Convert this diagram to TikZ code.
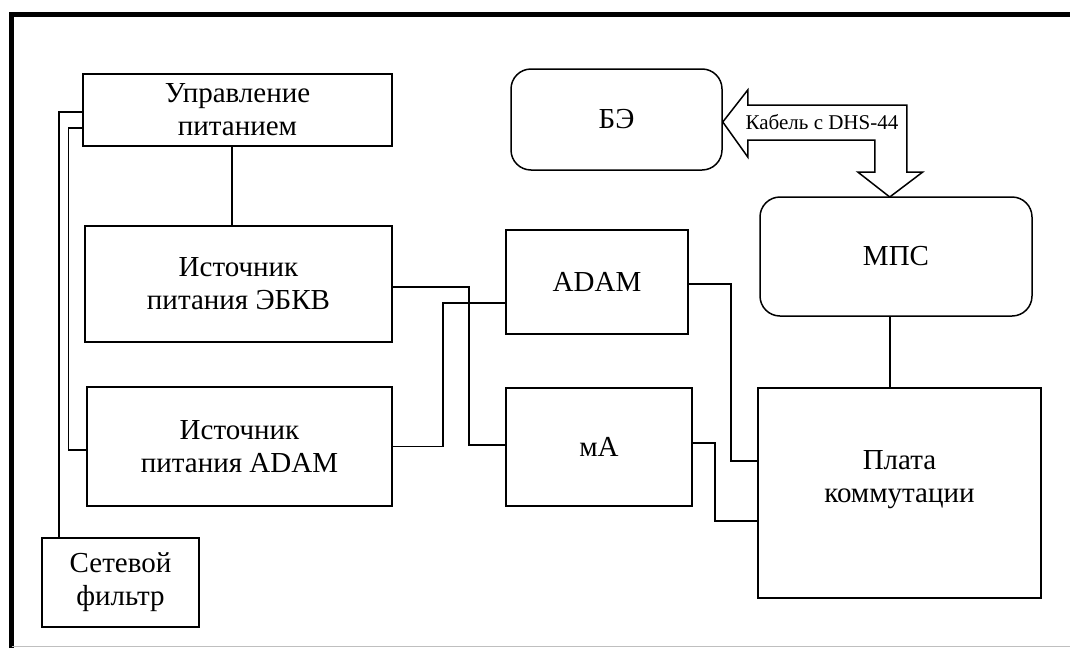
\documentclass[tikz,border=0pt]{standalone}
\usepackage{fontspec}
\setmainfont{Liberation Serif}

\tikzset{
  blk/.style={draw, line width=1.5pt, inner sep=0pt, align=center, font=\rmfamily\fontsize{29}{33}\selectfont},
  rblk/.style={blk, rounded corners=20pt},
  wire/.style={line width=1.5pt},
}

\begin{document}
\begin{tikzpicture}[x=1pt, y=-1pt]
        \useasboundingbox (0,0) rectangle (1070,648);

        % Frame
        \draw[line width=5pt] (11.5,648) -- (11.5,14.5) -- (1070,14.5);
        \draw[gray!50, line width=1.5pt] (11.5,646.5) -- (1070,646.5);

        % Power blocks (left)
        \node[blk, minimum width=309pt, minimum height=72pt] (upr) at (237.5,110) {Управление\\питанием};
        \node[blk, minimum width=307pt, minimum height=116pt] (ebkv) at (238.5,284) {Источник\\питания ЭБКВ};
        \node[blk, minimum width=305pt, minimum height=119pt] (ipadam) at (239.5,446.5) {Источник\\питания ADAM};
        \node[blk, minimum width=157pt, minimum height=89pt] (filt) at (120.5,582.5) {Сетевой\\фильтр};

        % Middle blocks
        \node[blk, minimum width=182pt, minimum height=104pt] (adam) at (597,282) {ADAM};
        \node[blk, minimum width=186pt, minimum height=118pt] (ma) at (599,447) {мА};

        % Right blocks
        \node[rblk, minimum width=211pt, minimum height=101pt] (be) at (616.5,119.5) {БЭ};
        \node[rblk, minimum width=272pt, minimum height=119pt] (mps) at (896,256.5) {МПС};
        \node[blk, minimum width=283pt, minimum height=210pt] (plata) at (899.5,493) {};
        \node[align=center, inner sep=0pt, font=\rmfamily\fontsize{29}{33}\selectfont] (plataT)
            at ([yshift=13pt]plata.center) {Плата\\коммутации};

        % Wires
        \draw[wire] ([xshift=-61.5pt]filt.north) |- ([yshift=-2pt]upr.west);
        \draw[wire] ([yshift=-18pt]upr.west) -- ++(-14,0) |- ([yshift=-3.5pt]ipadam.west);
        \draw[wire] ([xshift=-5.5pt]upr.south) coordinate (u) -- (u |- ebkv.north);
        \draw[wire] ([yshift=-3pt]ebkv.east) -- ++(76,0) |- ([yshift=2pt]ma.west);
        \draw[wire] (ipadam.east) -- ++(50,0) |- ([yshift=-21pt]adam.west);
        \draw[wire] ([yshift=-2pt]adam.east) -- ++(42,0) |- ([yshift=32pt]plata.west);
        \draw[wire] ([yshift=4pt]ma.east) -- ++(22,0) |- ([yshift=-28pt]plata.west);
        \draw[wire] ([xshift=-6pt]mps.south) coordinate (m) -- (m |- plata.north);

        % Cable arrow (BE <-> MPS)
        \draw[wire, line join=miter] ([yshift=-2.5pt]be.east) -- ++(25,-32) -- ++(0,15) -- ++(159,0)
            -- ++(0,67) -- ++(16,0) -- ++(-33,25) -- ++(-32,-25) -- ++(17,0) -- ++(0,-32)
            -- ++(-127,0) -- ++(0,17) -- cycle;
        \node[inner sep=0pt, font=\rmfamily\fontsize{21}{24}\selectfont] (cab) at (822,122) {Кабель с DHS-44};
\end{tikzpicture}
\end{document}
